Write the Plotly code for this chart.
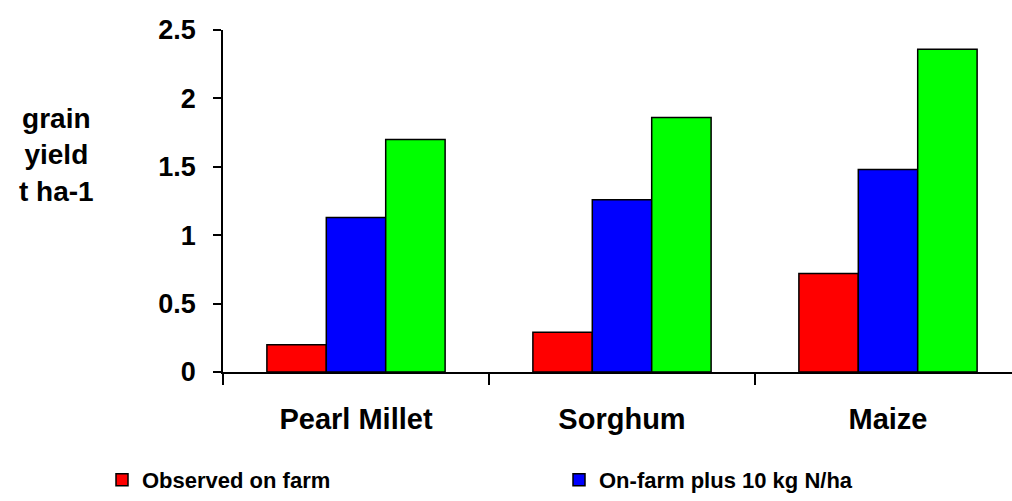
import plotly.graph_objects as go

# Grain yield (t/ha) by crop under three management levels
crops = ["Pearl Millet", "Sorghum", "Maize"]
observed = [0.20, 0.29, 0.72]
plus_10n = [1.13, 1.26, 1.48]
plus_40n = [1.70, 1.86, 2.36]

series_names = ["Observed on farm", "On-farm plus 10 kg N/ha", "On-farm plus 40 kg N/ha"]
series_colors = ["#ff0000", "#0000ff", "#00ff00"]
y_ticks = [0, 0.5, 1, 1.5, 2, 2.5]
y_tick_text = ["0", "0.5", "1", "1.5", "2", "2.5"]

FONT = "Liberation Sans, Arial, sans-serif"

W, H = 1012, 501
L, T, B = 223, 30, 129
plot_w = W - L
cat_px = 266  # pixel width of one category slot

fig = go.Figure()
legend_refs = ["legend", "legend2", None]
for name, vals, color, lg in zip(series_names, [observed, plus_10n, plus_40n],
                                  series_colors, legend_refs):
    fig.add_trace(go.Bar(
        x=crops, y=vals, name=name, showlegend=lg is not None,
        legend=lg or "legend",
        marker=dict(color=color, line=dict(color="black", width=1.5)),
    ))

legend_common = dict(
    orientation="h", xref="container", yref="container",
    xanchor="left", y=0.0, yanchor="bottom",
    font=dict(family=FONT, size=22, weight="bold"),
    itemclick=False, itemdoubleclick=False, bgcolor="rgba(0,0,0,0)",
)

fig.update_layout(
    width=W, height=H,
    margin=dict(l=L, r=0, t=T, b=B, pad=0, autoexpand=False),
    paper_bgcolor="white", plot_bgcolor="white",
    barmode="group", bargap=0.33, bargroupgap=0,
    font=dict(family=FONT, color="black", size=28, weight="bold"),
    xaxis=dict(
        type="category", automargin=False,
        range=[-0.5, -0.5 + plot_w / cat_px],
        showline=True, linecolor="black", linewidth=1.5,
        ticks="outside", tickson="boundaries", ticklen=11, tickwidth=1.5, tickcolor="black",
        tickfont=dict(family=FONT, size=29, weight="bold"),
        ticklabelstandoff=20,
        showgrid=False, zeroline=False,
    ),
    yaxis=dict(
        range=[0, 2.5], automargin=False,
        tickmode="array", tickvals=y_ticks, ticktext=y_tick_text,
        showline=True, linecolor="black", linewidth=1.5,
        ticks="outside", ticklen=8, tickwidth=1.5, tickcolor="black",
        tickfont=dict(family=FONT, size=27, weight="bold"),
        ticklabelstandoff=12,
        showgrid=False, zeroline=False,
    ),
    legend=dict(x=102 / W, **legend_common),
    legend2=dict(x=559 / W, **legend_common),
    annotations=[dict(
        text="grain<br>yield<br>t ha-1", xref="paper", yref="paper",
        x=-(L - 56) / plot_w, y=(H - B - 155) / (H - T - B),
        xanchor="center", yanchor="middle", showarrow=False, align="center",
        font=dict(family=FONT, size=28, weight="bold"),
    )],
)

fig.write_html("out.html")
